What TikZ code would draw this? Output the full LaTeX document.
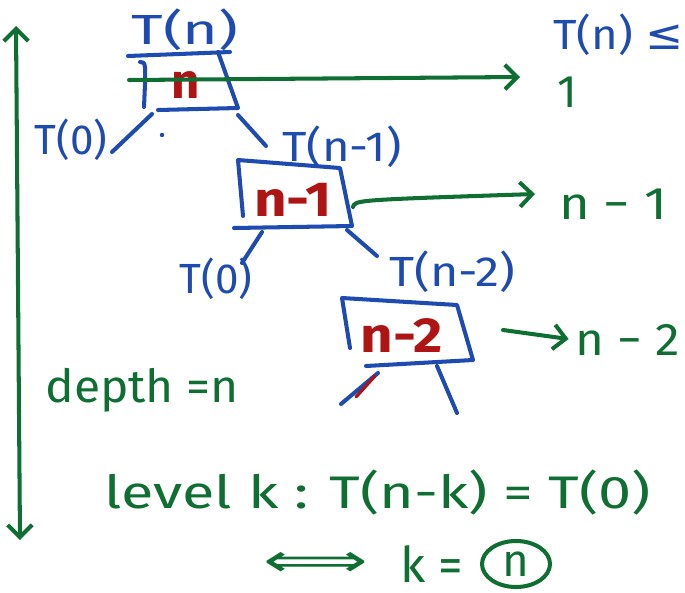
\documentclass[tikz,border=0pt]{standalone}
\usepackage{fontspec}
\usepackage{graphicx}
\setmainfont{Fira Sans}
\newfontfamily\symfont{DejaVu Sans}
\usetikzlibrary{arrows.meta}
\definecolor{inkblue}{RGB}{30,75,175}
\definecolor{inkgreen}{RGB}{15,110,50}
\definecolor{inkred}{RGB}{175,20,20}
\newcommand{\hwide}[2]{\scalebox{#1}[1]{#2}}
\begin{document}
\begin{tikzpicture}[x=0.02cm,y=-0.02cm,line cap=round,line join=round,
  pen/.style={line width=2.3pt},
  bl/.style={pen,draw=inkblue},
  gr/.style={pen,draw=inkgreen},
  rd/.style={pen,draw=inkred},
  barb/.style={-{Straight Barb[length=7pt,width=14pt,line width=2.3pt]}},
  dbarb/.style={{Straight Barb[length=7pt,width=14pt,line width=2.3pt]}-{Straight Barb[length=7pt,width=14pt,line width=2.3pt]}},
  btxt/.style={text=inkblue,font=\fontsize{24}{28}\selectfont,inner sep=0pt},
  gtxt/.style={text=inkgreen,font=\fontsize{26}{30}\selectfont,inner sep=0pt},
  rtxt/.style={text=inkred,font=\fontsize{28}{32}\selectfont\bfseries,inner sep=0pt}]
\useasboundingbox (0,0) rectangle (685,592);

% left depth arrow
\coordinate (dtop) at (16,26);
\coordinate (dbot) at (20,540);
\draw[gr,dbarb] (dtop) -- (dbot);
\node[gtxt,anchor=west] (depth) at (45,390) {\hwide{1.05}{depth =n}};

% level 0 box
\coordinate (a1) at (128,56); \coordinate (a2) at (230,52);
\coordinate (a3) at (238,108); \coordinate (a4) at (158,110);
\coordinate (a5) at (140,62); \coordinate (a6) at (144,107);
\draw[bl] (a1) -- (a2);
\draw[bl] (218,52) -- (a3) -- (a4);
\draw[bl] (a5) .. controls (146,62) .. (a6);
\node[rtxt] (n0) at (186,85) {n};
\node[btxt] (Tn) at (185,30) {\hwide{1.45}{T(n)}};

% level 1 box
\coordinate (b1) at (238,160); \coordinate (b2) at (340,168);
\coordinate (b3) at (352,226); \coordinate (b4) at (234,228);
\draw[bl] (243,216) -- (b1) -- (b2) -- (b3) -- (b4);
\node[rtxt] (n1) at (293,200) {\hwide{1.15}{n-1}};

% level 2 box
\coordinate (c1) at (342,298); \coordinate (c2) at (457,305);
\coordinate (c3) at (473,360); \coordinate (c4) at (366,366);
\draw[bl] (350,348) -- (c1) -- (c2) -- (c3) -- (c4);
\node[rtxt] (n2) at (402,336) {\hwide{1.15}{n-2}};

% branches
\coordinate (l0s) at (152,114); \coordinate (l0e) at (112,152);
\coordinate (r0s) at (238,115); \coordinate (r0e) at (266,146);
\draw[bl] (l0s) -- (l0e);
\draw[bl] (r0s) -- (r0e);
\fill[inkblue] (162,135) circle (2.2);
\node[btxt] (T0a) at (71,140) {T(0)};
\node[btxt] (Tn1) at (342,147) {\hwide{1.12}{T(n-1)}};

\coordinate (l1s) at (262,232); \coordinate (l1e) at (242,263);
\coordinate (r1s) at (347,230); \coordinate (r1e) at (377,256);
\draw[bl] (l1s) -- (l1e);
\draw[bl] (r1s) -- (r1e);
\node[btxt] (T0b) at (216,279) {T(0)};
\node[btxt] (Tn2) at (452,272) {\hwide{1.15}{T(n-2)}};

\coordinate (l2s) at (378,373); \coordinate (l2e) at (341,404);
\coordinate (r2s) at (437,366); \coordinate (r2e) at (457,413);
\draw[bl] (l2s) -- (l2e);
\draw[bl] (r2s) -- (r2e);
\draw[rd,line width=1.8pt] (356,397) -- (375,376);

% cost arrows
\node[gtxt] (g1) at (567,92) {1};
\node[gtxt] (g2) at (613,204) {\hwide{1.15}{n − 1}};
\node[gtxt] (g3) at (628,340) {\hwide{1.08}{n − 2}};
\coordinate (s1) at (129,80);
\coordinate (s2) at (353,207);
\coordinate (s3) at (503,330);
\draw[gr,barb] (s1) -- (520,77);
\draw[gr,barb] (s2) .. controls (355,200) .. (535,194);
\draw[gr,barb,shorten >=4pt] (s3) -- (g3.west);

% top right
\node[btxt,anchor=west] (Tnle) at (553,35) {\hwide{1.08}{T(n) {\symfont ≤}}};

% bottom statements
\node[gtxt,anchor=west] (level) at (104,492) {\hwide{1.3}{level k : T(n-k) = T(0)}};
\node[gtxt] (iff) at (316,564) {\hwide{1.6}{{\symfont ⟺}}};
\node[gtxt,font=\fontsize{28}{32}\selectfont] (keq) at (432,564) {k =};
\node[gtxt] (nc) at (516,564) {n};
\draw[gr] (nc) ellipse (34 and 23);
\end{tikzpicture}
\end{document}
